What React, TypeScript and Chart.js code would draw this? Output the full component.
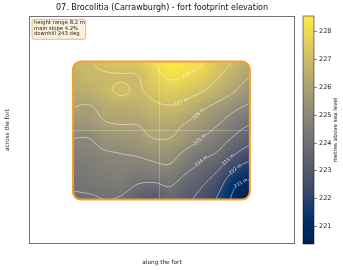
import { useEffect, useRef } from 'react';
import { Chart, registerables } from 'chart.js';

Chart.register(...registerables);

const chartTitle = '07. Brocolitia (Carrawburgh) - fort footprint elevation';
const xAxisLabel = 'along the fort';
const yAxisLabel = 'across the fort';
const colorbarLabel = 'metres above sea level';
const statLines = ['height range 8.2 m', 'main slope 4.2%', 'downhill 243 deg'];

const xLimits = [-98, 102];
const yLimits = [-100, 100];
const extentX = [-65, 68];
const extentY = [-61, 60];
const elevationMin = 220.35;
const elevationMax = 228.55;
const colorbarTicks = [221, 222, 223, 224, 225, 226, 227, 228];
const contourLevels = [221, 222, 223, 224, 225, 226, 227, 228];

// elevation (m), rows from the top edge of the footprint to the bottom edge, columns left to right
const elevationGrid = [
  [226.8, 226.95, 227.2, 227.3, 227.45, 227.95, 228.55, 228.35, 228.05, 227.4, 226.95, 226.3],
  [226.6, 226.8, 226.9, 226.95, 226.95, 227.6, 228.1, 227.95, 227.6, 227.05, 226.5, 226.0],
  [226.3, 226.5, 226.8, 227.1, 226.9, 227.2, 227.5, 227.3, 227.0, 226.5, 226.0, 225.5],
  [226.0, 225.9, 226.3, 226.4, 226.5, 226.8, 226.9, 226.7, 226.15, 225.7, 225.2, 224.8],
  [225.5, 225.6, 225.95, 226.05, 226.05, 226.3, 226.3, 226.0, 225.6, 225.1, 224.5, 224.1],
  [225.0, 225.0, 225.4, 225.5, 225.7, 226.0, 226.0, 225.6, 225.0, 224.5, 223.9, 223.4],
  [224.6, 224.7, 224.9, 225.0, 225.1, 225.3, 225.4, 224.8, 224.3, 223.9, 223.1, 222.5],
  [224.3, 224.4, 224.6, 224.7, 224.6, 224.7, 224.8, 224.2, 223.7, 223.1, 222.1, 221.5],
  [224.1, 224.2, 224.3, 224.4, 224.0, 223.9, 224.1, 223.6, 223.1, 222.4, 221.2, 220.8],
  [223.9, 223.9, 224.0, 223.9, 223.4, 223.0, 223.6, 223.2, 222.7, 221.9, 220.8, 220.35],
];

const cividisStops = ['#00204d', '#00336f', '#39486b', '#575c6d', '#707173', '#8a8779', '#a69d75', '#c4b56c', '#e4cf5b', '#ffea46'];

const FONT = '"DejaVu Sans", sans-serif';

function hexToRgb(h: string) {
  return [parseInt(h.slice(1, 3), 16), parseInt(h.slice(3, 5), 16), parseInt(h.slice(5, 7), 16)];
}
const stopRgb = cividisStops.map(hexToRgb);

function cividis(t: number) {
  const tt = Math.max(0, Math.min(1, t)) * (stopRgb.length - 1);
  const i = Math.min(stopRgb.length - 2, Math.floor(tt));
  const f = tt - i;
  const a = stopRgb[i], b = stopRgb[i + 1];
  return [a[0] + (b[0] - a[0]) * f, a[1] + (b[1] - a[1]) * f, a[2] + (b[2] - a[2]) * f];
}

function sampleGrid(grid: number[][], u: number, v: number) {
  const rows = grid.length, cols = grid[0].length;
  const i = Math.min(cols - 1, Math.floor(u));
  const j = Math.min(rows - 1, Math.floor(v));
  const fx = u - i, fy = v - j;
  const get = (r: number, c: number) => grid[Math.max(0, Math.min(rows - 1, r))][Math.max(0, Math.min(cols - 1, c))];
  const cr = (p0: number, p1: number, p2: number, p3: number, t: number) =>
    p1 + 0.5 * t * (p2 - p0 + t * (2 * p0 - 5 * p1 + 4 * p2 - p3 + t * (3 * (p1 - p2) + p3 - p0)));
  const vals: number[] = [];
  for (let m = -1; m <= 2; m++) vals.push(cr(get(j + m, i - 1), get(j + m, i), get(j + m, i + 1), get(j + m, i + 2), fx));
  return cr(vals[0], vals[1], vals[2], vals[3], fy);
}

function roundRectPath(ctx: CanvasRenderingContext2D, x: number, y: number, w: number, h: number, r: number) {
  ctx.beginPath();
  ctx.moveTo(x + r, y);
  ctx.lineTo(x + w - r, y);
  ctx.arcTo(x + w, y, x + w, y + r, r);
  ctx.lineTo(x + w, y + h - r);
  ctx.arcTo(x + w, y + h, x + w - r, y + h, r);
  ctx.lineTo(x + r, y + h);
  ctx.arcTo(x, y + h, x, y + h - r, r);
  ctx.lineTo(x, y + r);
  ctx.arcTo(x, y, x + r, y, r);
  ctx.closePath();
}

type Seg = [number, number, number, number];

function marching(vals: number[][], xs: number[], ys: number[], level: number): Seg[] {
  const segs: Seg[] = [];
  const ny = vals.length, nx = vals[0].length;
  for (let j = 0; j < ny - 1; j++) {
    for (let i = 0; i < nx - 1; i++) {
      const a = vals[j][i], b = vals[j][i + 1], c = vals[j + 1][i + 1], d = vals[j + 1][i];
      const pts: { e: string; x: number; y: number }[] = [];
      const cross = (v1: number, v2: number) => (v1 - level) * (v2 - level) < 0;
      if (cross(a, b)) pts.push({ e: 't', x: xs[i] + (xs[i + 1] - xs[i]) * (level - a) / (b - a), y: ys[j] });
      if (cross(b, c)) pts.push({ e: 'r', x: xs[i + 1], y: ys[j] + (ys[j + 1] - ys[j]) * (level - b) / (c - b) });
      if (cross(d, c)) pts.push({ e: 'b', x: xs[i] + (xs[i + 1] - xs[i]) * (level - d) / (c - d), y: ys[j + 1] });
      if (cross(a, d)) pts.push({ e: 'l', x: xs[i], y: ys[j] + (ys[j + 1] - ys[j]) * (level - a) / (d - a) });
      if (pts.length === 2) segs.push([pts[0].x, pts[0].y, pts[1].x, pts[1].y]);
      else if (pts.length === 4) {
        const center = (a + b + c + d) / 4;
        const P: any = {};
        pts.forEach((p) => (P[p.e] = p));
        if ((center > level) === (a > level)) {
          segs.push([P.t.x, P.t.y, P.r.x, P.r.y]);
          segs.push([P.b.x, P.b.y, P.l.x, P.l.y]);
        } else {
          segs.push([P.t.x, P.t.y, P.l.x, P.l.y]);
          segs.push([P.r.x, P.r.y, P.b.x, P.b.y]);
        }
      }
    }
  }
  return segs;
}

const heatmapPlugin = {
  id: 'heatmap',
  beforeDatasetsDraw(chart: any) {
    const { ctx, scales } = chart;
    const sx = scales.x, sy = scales.y, cb = scales.cb;
    const vmin = cb.min, vmax = cb.max;
    const x0 = sx.getPixelForValue(extentX[0]);
    const x1 = sx.getPixelForValue(extentX[1]);
    const y0 = sy.getPixelForValue(extentY[1]);
    const y1 = sy.getPixelForValue(extentY[0]);
    const w = Math.round(x1 - x0), h = Math.round(y1 - y0);
    const rows = elevationGrid.length, cols = elevationGrid[0].length;

    const off = document.createElement('canvas');
    off.width = w; off.height = h;
    const octx = off.getContext('2d')!;
    const img = octx.createImageData(w, h);
    for (let py = 0; py < h; py++) {
      for (let px = 0; px < w; px++) {
        const u = ((px + 0.5) / w) * (cols - 1);
        const v = ((py + 0.5) / h) * (rows - 1);
        const val = sampleGrid(elevationGrid, u, v);
        const [r, g, b] = cividis((val - vmin) / (vmax - vmin));
        const k = (py * w + px) * 4;
        img.data[k] = r; img.data[k + 1] = g; img.data[k + 2] = b; img.data[k + 3] = 255;
      }
    }
    octx.putImageData(img, 0, 0);

    const rad = 8;
    ctx.save();
    roundRectPath(ctx, x0, y0, w, h, rad);
    ctx.clip();
    ctx.drawImage(off, x0, y0);

    // contours
    const step = 2;
    const NX = Math.round(w / step) + 1, NY = Math.round(h / step) + 1;
    const xs: number[] = [], ys: number[] = [];
    for (let i = 0; i < NX; i++) xs.push(x0 + (i * w) / (NX - 1));
    for (let j = 0; j < NY; j++) ys.push(y0 + (j * h) / (NY - 1));
    const vals: number[][] = [];
    for (let j = 0; j < NY; j++) {
      const row: number[] = [];
      for (let i = 0; i < NX; i++) row.push(sampleGrid(elevationGrid, (i / (NX - 1)) * (cols - 1), (j / (NY - 1)) * (rows - 1)));
      vals.push(row);
    }
    ctx.font = `4.6px ${FONT}`;
    for (const level of contourLevels) {
      const segs = marching(vals, xs, ys, level);
      if (!segs.length) continue;
      let label: { x: number; y: number; a: number } | null = null;
      if (segs.length > 12) {
        const sorted = segs.slice().sort((p, q) => p[0] + p[2] - (q[0] + q[2]));
        const s = sorted[Math.floor(sorted.length * 0.68)];
        let a = Math.atan2(s[3] - s[1], s[2] - s[0]);
        if (a > Math.PI / 2) a -= Math.PI;
        if (a < -Math.PI / 2) a += Math.PI;
        label = { x: (s[0] + s[2]) / 2, y: (s[1] + s[3]) / 2, a };
      }
      ctx.strokeStyle = 'rgba(255,255,255,0.6)';
      ctx.lineWidth = 0.8;
      ctx.beginPath();
      for (const s of segs) {
        if (label) {
          const mx = (s[0] + s[2]) / 2 - label.x, my = (s[1] + s[3]) / 2 - label.y;
          if (Math.hypot(mx, my) < 8) continue;
        }
        ctx.moveTo(s[0], s[1]);
        ctx.lineTo(s[2], s[3]);
      }
      ctx.stroke();
      if (label) {
        ctx.save();
        ctx.translate(label.x, label.y);
        ctx.rotate(label.a);
        ctx.fillStyle = 'rgba(255,255,255,0.85)';
        ctx.textAlign = 'center';
        ctx.textBaseline = 'middle';
        ctx.fillText(`${level} m`, 0, 0);
        ctx.restore();
      }
    }

    // zero lines
    ctx.restore();
    ctx.save();
    const ca = chart.chartArea;
    ctx.strokeStyle = 'rgba(255,255,255,0.3)';
    ctx.lineWidth = 0.8;
    const zx = Math.round(sx.getPixelForValue(0)) + 0.5;
    const zy = Math.round(sy.getPixelForValue(0)) + 0.5;
    ctx.beginPath();
    ctx.moveTo(zx, ca.top); ctx.lineTo(zx, ca.bottom);
    ctx.moveTo(ca.left, zy); ctx.lineTo(ca.right, zy);
    ctx.stroke();

    roundRectPath(ctx, x0, y0, w, h, rad);
    ctx.strokeStyle = '#f5a02c';
    ctx.lineWidth = 2;
    ctx.stroke();
    ctx.restore();
  },
  afterDraw(chart: any) {
    const { ctx, chartArea: ca, scales } = chart;
    const cb = scales.cb;
    ctx.save();
    // frame
    ctx.strokeStyle = 'rgba(0,0,0,0.55)';
    ctx.lineWidth = 1;
    ctx.strokeRect(ca.left + 0.5, ca.top + 0.5, ca.right - ca.left - 1, ca.bottom - ca.top - 1);

    // title
    ctx.fillStyle = '#111';
    ctx.font = `8px ${FONT}`;
    ctx.textAlign = 'center';
    ctx.textBaseline = 'middle';
    ctx.fillText(chartTitle, (ca.left + ca.right) / 2, 7.5);

    // axis labels
    ctx.font = `5.8px ${FONT}`;
    ctx.fillStyle = '#222';
    ctx.fillText(xAxisLabel, (ca.left + ca.right) / 2, 262.5);
    ctx.save();
    ctx.translate(7.5, (ca.top + ca.bottom) / 2);
    ctx.rotate(-Math.PI / 2);
    ctx.fillText(yAxisLabel, 0, 0);
    ctx.restore();

    // stats box
    const bx = 32, by = 19.3, bw = 53.7, bh = 20;
    roundRectPath(ctx, bx, by, bw, bh, 2);
    ctx.fillStyle = '#fbf0dc';
    ctx.fill();
    ctx.strokeStyle = '#d9ac70';
    ctx.lineWidth = 0.8;
    ctx.stroke();
    ctx.fillStyle = '#222';
    ctx.font = `5.3px ${FONT}`;
    ctx.textAlign = 'left';
    ctx.textBaseline = 'middle';
    statLines.forEach((t, i) => ctx.fillText(t, 34, 22.8 + i * 5.5));

    // colorbar
    const cx0 = 303, cx1 = 314;
    const top = Math.round(cb.top), bot = Math.round(cb.bottom);
    for (let py = top; py < bot; py++) {
      const v = cb.getValueForPixel(py + 0.5);
      const [r, g, b] = cividis((v - cb.min) / (cb.max - cb.min));
      ctx.fillStyle = `rgb(${r | 0},${g | 0},${b | 0})`;
      ctx.fillRect(cx0, py, cx1 - cx0, 1);
    }
    ctx.strokeStyle = 'rgba(0,0,0,0.6)';
    ctx.lineWidth = 0.8;
    ctx.strokeRect(cx0, top, cx1 - cx0, bot - top);
    ctx.font = `6.5px ${FONT}`;
    ctx.fillStyle = '#222';
    ctx.textAlign = 'left';
    ctx.textBaseline = 'middle';
    ctx.beginPath();
    for (const t of colorbarTicks) {
      const py = Math.round(cb.getPixelForValue(t)) + 0.5;
      ctx.moveTo(cx1, py);
      ctx.lineTo(cx1 + 3, py);
      ctx.fillText(String(t), cx1 + 5, py);
    }
    ctx.stroke();
    ctx.save();
    ctx.translate(336, (top + bot) / 2);
    ctx.rotate(-Math.PI / 2);
    ctx.font = `5.6px ${FONT}`;
    ctx.textAlign = 'center';
    ctx.fillText(colorbarLabel, 0, 0);
    ctx.restore();
    ctx.restore();
  },
};

export default function App() {
  const ref = useRef<HTMLCanvasElement>(null);
  useEffect(() => {
    const chart = new Chart(ref.current!, {
      type: 'scatter',
      data: { datasets: [{ data: [], pointRadius: 0 }] },
      options: {
        animation: false,
        responsive: false,
        devicePixelRatio: 1,
        layout: { padding: { left: 29, top: 16, right: 48, bottom: 26 } },
        plugins: { legend: { display: false }, tooltip: { enabled: false }, title: { display: false } },
        scales: {
          x: { type: 'linear', min: xLimits[0], max: xLimits[1], display: false },
          y: { type: 'linear', min: yLimits[0], max: yLimits[1], display: false },
          cb: { type: 'linear', position: 'right', min: elevationMin, max: elevationMax, display: false },
        },
      },
      plugins: [heatmapPlugin],
    } as any);
    return () => chart.destroy();
  }, []);
  return (
    <div style={{ position: 'absolute', left: 0, top: 0, width: 343, height: 270, background: '#fff' }}>
      <canvas ref={ref} width={343} height={270} style={{ display: 'block', width: 343, height: 270 }} />
    </div>
  );
}
